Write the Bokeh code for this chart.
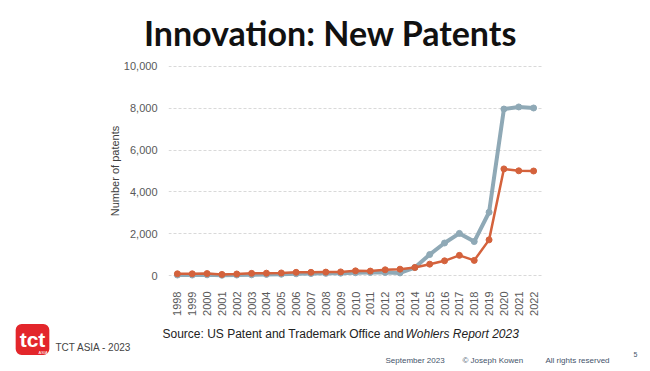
from bokeh.plotting import figure
from bokeh.layouts import column, row
from bokeh.models import ColumnDataSource, Label, FixedTicker, NumeralTickFormatter
from bokeh.embed import file_html
from bokeh.resources import INLINE

years = list(range(1998, 2023))
year_labels = [str(y) for y in years]
patents_blue = [30, 30, 40, 20, 30, 40, 60, 70, 90, 100, 110, 120, 140, 150, 150, 130, 390,
                1010, 1560, 2020, 1630, 3030, 7960, 8060, 8010]
patents_orange = [90, 90, 100, 60, 80, 110, 120, 130, 160, 160, 170, 180, 230, 220, 280, 310, 390,
                  550, 710, 970, 730, 1710, 5100, 5010, 5000]
y_ticks = [0, 2000, 4000, 6000, 8000, 10000]

BLUE = "#8fa9b6"
ORANGE = "#d4623c"
W = 650
TOP_H, MAIN_H, BOT_H = 58, 260, 53


def panel(h):
    f = figure(width=W, height=h, output_backend="svg", toolbar_location=None,
               x_range=(0, W), y_range=(h, 0), x_axis_location=None, y_axis_location=None,
               min_border=0, min_border_left=0, min_border_right=0,
               min_border_top=0, min_border_bottom=0)
    f.outline_line_color = None
    f.grid.grid_line_color = None
    return f


def lab(f, x, y, text, **kw):
    kw.setdefault("text_baseline", "alphabetic")
    kw.setdefault("text_font", "Liberation Sans")
    f.add_layout(Label(x=x, y=y, text=text, **kw))


# ---- title panel (window y 0..58)
top = panel(TOP_H)
lab(top, 330, 32, "Innovation: New Patents", text_font="Lato", text_font_style="bold",
    text_font_size="34px", text_color="#111111", text_align="center")

# ---- main chart (window y 58..318), frame x 168..542, y 58..288
src = ColumnDataSource(dict(x=years, b=patents_blue, o=patents_orange))
p = figure(width=W, height=MAIN_H, output_backend="svg", toolbar_location=None,
           x_range=(1997.4, 2022.6), y_range=(-374, 10374),
           min_border_left=168, min_border_right=108, min_border_top=0, min_border_bottom=30)
p.outline_line_color = None
p.line("x", "b", source=src, color=BLUE, line_width=4)
p.scatter("x", "b", source=src, color=BLUE, size=6)
p.line("x", "o", source=src, color=ORANGE, line_width=2.5)
p.scatter("x", "o", source=src, color=ORANGE, size=6)

p.xaxis.ticker = FixedTicker(ticks=years)
p.xaxis.major_label_overrides = {y: s for y, s in zip(years, year_labels)}
p.xaxis.major_label_orientation = 1.5708
p.yaxis.ticker = FixedTicker(ticks=y_ticks)
p.yaxis.formatter = NumeralTickFormatter(format="0,0")
for ax in (p.xaxis[0], p.yaxis[0]):
    ax.axis_line_color = None
    ax.major_tick_line_color = None
    ax.minor_tick_line_color = None
    ax.major_label_text_font = "Liberation Sans"
    ax.major_label_text_font_size = "11px"
    ax.major_label_text_color = "#595959"
p.xaxis.major_label_standoff = 2
p.yaxis.major_label_standoff = 5
p.yaxis.axis_label = "Number of patents"
p.yaxis.axis_label_text_font = "Liberation Sans"
p.yaxis.axis_label_text_font_style = "normal"
p.yaxis.axis_label_text_font_size = "11px"
p.yaxis.axis_label_text_color = "#404040"
p.yaxis.axis_label_standoff = 0
p.xgrid.grid_line_color = None
p.ygrid.grid_line_color = "#d9d9d9"
p.ygrid.grid_line_dash = "3 2"

# ---- footer panel (window y 318..371)
bot = panel(BOT_H)
o = TOP_H + MAIN_H
lab(bot, 162, 333 - o, "Source: US Patent and Trademark Office and ", text_font_size="12px",
    text_color="#222222")
lab(bot, 405, 333 - o, "Wohlers Report 2023", text_font_style="italic", text_font_size="12px",
    text_color="#222222")
lab(bot, 32, 339 - o, "tct", text_font_style="bold", text_font_size="21px",
    text_color="white", text_align="center", text_baseline="middle",
    background_fill_color="#e3262b", border_radius=6, padding=4)
lab(bot, 38, 352 - o, "ASIA", text_font_size="4px", text_color="white")
lab(bot, 55, 347 - o, "TCT ASIA - 2023", text_font_size="10px", text_color="#444444")
lab(bot, 385, 360 - o, "September 2023", text_font_size="8px", text_color="#44546a")
lab(bot, 462, 360 - o, "\u00a9 Joseph Kowen", text_font_size="8px", text_color="#44546a")
lab(bot, 545, 360 - o, "All rights reserved", text_font_size="8px", text_color="#44546a")
lab(bot, 633, 354 - o, "5", text_font_size="7px", text_color="#44546a")

layout = column(row(top), row(p), row(bot), spacing=0)
open("out.html", "w").write(file_html(layout, INLINE))
